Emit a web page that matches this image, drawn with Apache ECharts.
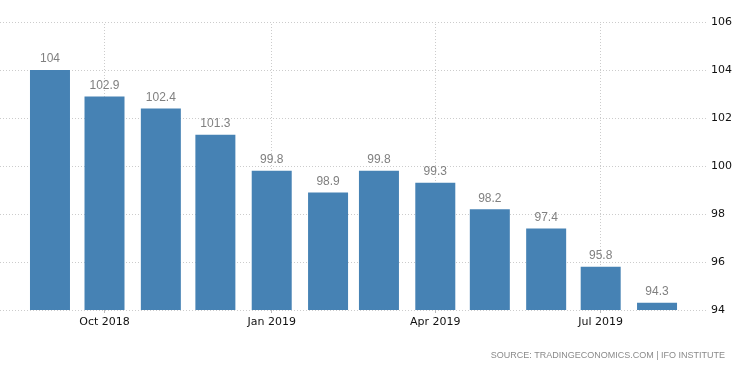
<!DOCTYPE html>
<html>
<head>
<meta charset="utf-8">
<script src="https://cdn.jsdelivr.net/npm/echarts@6/dist/echarts.min.js"></script>
<style>
html,body{margin:0;padding:0;background:#fff;}
#c{width:750px;height:373px;}
</style>
</head>
<body>
<div id="c"></div>
<script>
// Data
const months = ['2018-09','2018-10','2018-11','2018-12','2019-01','2019-02','2019-03','2019-04','2019-05','2019-06','2019-07','2019-08'];
const values = [104, 102.9, 102.4, 101.3, 99.8, 98.9, 99.8, 99.3, 98.2, 97.4, 95.8, 94.3];
const tickMonths = ['2018-10','2019-01','2019-04','2019-07'];
const yTicks = [94, 96, 98, 100, 102, 104, 106];
const monthNames = ['Jan','Feb','Mar','Apr','May','Jun','Jul','Aug','Sep','Oct','Nov','Dec'];
const sourceText = 'SOURCE: TRADINGECONOMICS.COM | IFO INSTITUTE';

function toTime(s) {
  const p = s.split('-');
  return new Date(+p[0], +p[1] - 1, 1).getTime();
}
const seriesData = months.map((m, i) => [toTime(m), values[i]]);
const tickTimes = tickMonths.map(toTime);

const chart = echarts.init(document.getElementById('c'), null, {renderer: 'canvas'});
chart.setOption({
  animation: false,
  backgroundColor: '#ffffff',
  grid: {left: 0, right: 42, top: 22, bottom: 63, containLabel: false},
  xAxis: {
    type: 'value',
    scale: true,
    min: new Date(2018, 7, 4, 12).getTime(),
    max: new Date(2019, 7, 29, 1).getTime(),
    axisLine: {show: false},
    axisTick: {show: true, customValues: tickTimes, length: 3, lineStyle: {color: '#bbbbbb'}},
    splitLine: {show: false},
    axisLabel: {
      customValues: tickTimes,
      color: '#111111',
      fontFamily: 'DejaVu Sans',
      fontSize: 11,
      margin: 7,
      formatter: function (v) {
        const d = new Date(v);
        return monthNames[d.getMonth()] + ' ' + d.getFullYear();
      }
    }
  },
  yAxis: {
    type: 'value',
    position: 'right',
    min: yTicks[0],
    max: yTicks[yTicks.length - 1],
    interval: 2,
    axisLine: {show: false},
    axisTick: {show: false},
    axisLabel: {color: '#111111', fontFamily: 'DejaVu Sans', fontSize: 11, margin: 3},
    splitLine: {show: true, lineStyle: {color: '#cccccc', type: [1, 2], width: 1}}
  },
  series: [{
    type: 'bar',
    data: seriesData,
    barWidth: 40,
    itemStyle: {color: '#4682b4'},
    label: {
      show: true,
      position: 'top',
      distance: 5,
      color: '#808080',
      fontFamily: 'Liberation Sans',
      fontSize: 12,
      formatter: function (p) { return String(p.value[1]); }
    },
    markLine: {
      silent: true,
      z: 0,
      symbol: 'none',
      label: {show: false},
      lineStyle: {color: '#cccccc', type: [1, 2], width: 1},
      data: tickTimes.map(t => ({xAxis: t}))
    },
    z: 3
  }],
  graphic: [{
    type: 'text',
    right: 25,
    top: 351,
    style: {
      text: sourceText,
      fill: '#8a8a8a',
      font: '9px "Liberation Sans"'
    }
  }]
});
</script>
</body>
</html>
